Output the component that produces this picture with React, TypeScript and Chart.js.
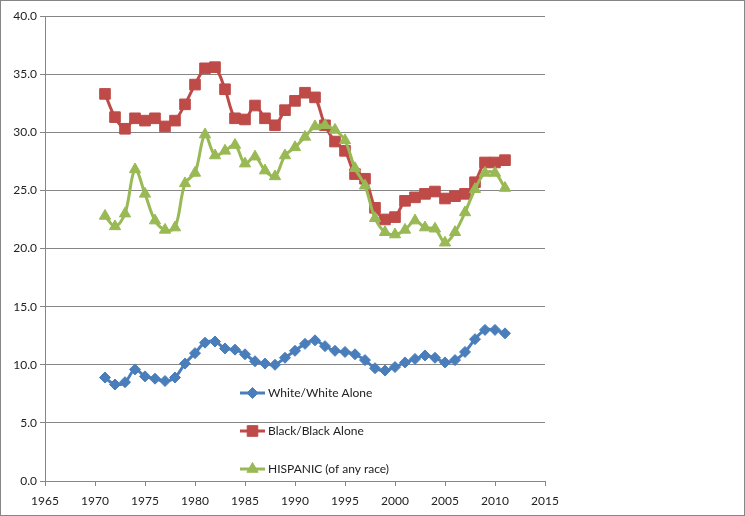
import React, { useEffect, useRef } from "react";
import { Chart, registerables } from "chart.js";

Chart.register(...registerables);

const years: number[] = [
  1971, 1972, 1973, 1974, 1975, 1976, 1977, 1978, 1979, 1980,
  1981, 1982, 1983, 1984, 1985, 1986, 1987, 1988, 1989, 1990,
  1991, 1992, 1993, 1994, 1995, 1996, 1997, 1998, 1999, 2000,
  2001, 2002, 2003, 2004, 2005, 2006, 2007, 2008, 2009, 2010, 2011,
];

const whiteValues: number[] = [
  8.9, 8.3, 8.5, 9.6, 9.0, 8.8, 8.6, 8.9, 10.1, 11.0,
  11.9, 12.0, 11.4, 11.3, 10.9, 10.3, 10.1, 10.0, 10.6, 11.2,
  11.8, 12.1, 11.6, 11.2, 11.1, 10.9, 10.4, 9.7, 9.5, 9.8,
  10.2, 10.5, 10.8, 10.6, 10.2, 10.4, 11.1, 12.2, 13.0, 13.0, 12.7,
];

const blackValues: number[] = [
  33.3, 31.3, 30.3, 31.2, 31.0, 31.2, 30.5, 31.0, 32.4, 34.1,
  35.5, 35.6, 33.7, 31.2, 31.1, 32.3, 31.2, 30.6, 31.9, 32.7,
  33.4, 33.0, 30.6, 29.2, 28.4, 26.4, 26.0, 23.5, 22.5, 22.7,
  24.1, 24.4, 24.7, 24.9, 24.3, 24.5, 24.7, 25.7, 27.4, 27.4, 27.6,
];

const hispanicValues: number[] = [
  22.8, 21.9, 23.0, 26.8, 24.7, 22.4, 21.6, 21.8, 25.6, 26.5,
  29.8, 28.0, 28.4, 28.9, 27.3, 27.9, 26.7, 26.2, 28.0, 28.7,
  29.6, 30.5, 30.6, 30.2, 29.3, 26.9, 25.4, 22.6, 21.4, 21.2,
  21.6, 22.4, 21.8, 21.7, 20.5, 21.4, 23.1, 25.1, 26.5, 26.5, 25.2,
];

const seriesLabels: string[] = [
  "White/White Alone",
  "Black/Black Alone",
  "HISPANIC (of any race)",
];

const FONT = "Lato, 'Liberation Sans', sans-serif";
const COLORS = ["#4A7EBB", "#BE4B48", "#98B954"];
const STYLES = ["rectRot", "rect", "triangle"];
const RADII = [5.5, 7.5, 6.5];

function toPoints(vals: number[]) {
  return years.map((y, i) => ({ x: y, y: vals[i] }));
}

function drawMarker(ctx: CanvasRenderingContext2D, style: string, r: number, x: number, y: number) {
  ctx.beginPath();
  if (style === "rect") {
    const s = Math.SQRT1_2 * r;
    ctx.rect(x - s, y - s, 2 * s, 2 * s);
  } else if (style === "rectRot") {
    ctx.moveTo(x - r, y);
    ctx.lineTo(x, y - r);
    ctx.lineTo(x + r, y);
    ctx.lineTo(x, y + r);
    ctx.closePath();
  } else {
    ctx.moveTo(x, y - r);
    ctx.lineTo(x + r * 0.866, y + r * 0.5);
    ctx.lineTo(x - r * 0.866, y + r * 0.5);
    ctx.closePath();
  }
  ctx.fill();
  ctx.stroke();
}

const legendPlugin = {
  id: "insideLegend",
  afterDraw(chart: any) {
    const ctx = chart.ctx as CanvasRenderingContext2D;
    const rowsY = [392, 430, 468];
    ctx.save();
    for (let i = 0; i < 3; i++) {
      const y = rowsY[i];
      ctx.strokeStyle = COLORS[i];
      ctx.lineWidth = 3;
      ctx.beginPath();
      ctx.moveTo(239, y);
      ctx.lineTo(264, y);
      ctx.stroke();
      ctx.fillStyle = COLORS[i];
      ctx.strokeStyle = COLORS[i];
      ctx.lineWidth = 1;
      drawMarker(ctx, STYLES[i], RADII[i], 251.5, y);
      ctx.fillStyle = "#222";
      ctx.font = `12px ${FONT}`;
      ctx.textBaseline = "middle";
      ctx.textAlign = "left";
      ctx.fillText(seriesLabels[i], 267, y + 0.5);
    }
    ctx.restore();
  },
};

export default function App() {
  const canvasRef = useRef<HTMLCanvasElement | null>(null);

  useEffect(() => {
    document.body.style.margin = "0";
    const canvas = canvasRef.current;
    if (!canvas) return;
    const allValues = [whiteValues, blackValues, hispanicValues];
    const chart = new Chart(canvas, {
      type: "line",
      data: {
        datasets: allValues.map((vals, i) => ({
          label: seriesLabels[i],
          data: toPoints(vals),
          borderColor: COLORS[i],
          backgroundColor: COLORS[i],
          borderWidth: 3,
          pointStyle: STYLES[i] as any,
          pointRadius: RADII[i],
          pointBorderWidth: 1,
          pointBackgroundColor: COLORS[i],
          pointBorderColor: COLORS[i],
          tension: 0.35,
          fill: false,
          order: 2 - i,
        })),
      },
      options: {
        animation: false,
        responsive: false,
        maintainAspectRatio: false,
        devicePixelRatio: 1,
        layout: { padding: { left: 0, top: 15, right: 199, bottom: 0 } },
        plugins: {
          legend: { display: false },
          tooltip: { enabled: false },
        },
        scales: {
          x: {
            type: "linear",
            min: 1965,
            max: 2015,
            afterFit: (s: any) => {
              s.height = 34;
            },
            ticks: {
              stepSize: 5,
              color: "#222",
              font: { family: FONT, size: 12 },
              padding: 8,
              maxRotation: 0,
              callback: (v: any) => String(v),
            },
            grid: {
              drawOnChartArea: false,
              drawTicks: true,
              tickLength: 5,
              color: "#868686",
            },
            border: { display: true, color: "#868686", width: 1 },
          },
          y: {
            type: "linear",
            min: 0,
            max: 40,
            afterFit: (s: any) => {
              s.width = 44;
            },
            ticks: {
              stepSize: 5,
              color: "#222",
              font: { family: FONT, size: 12 },
              padding: 3,
              callback: (v: any) => Number(v).toFixed(1),
            },
            grid: {
              drawOnChartArea: true,
              drawTicks: true,
              tickLength: 5,
              color: "#868686",
              lineWidth: 1,
            },
            border: { display: true, color: "#868686", width: 1 },
          },
        },
      },
      plugins: [legendPlugin],
    });
    return () => chart.destroy();
  }, []);

  return (
    <div
      style={{
        width: 745,
        height: 516,
        border: "1px solid #868686",
        boxSizing: "border-box",
        background: "#fff",
      }}
    >
      <canvas ref={canvasRef} width={743} height={514} style={{ display: "block" }} />
    </div>
  );
}
